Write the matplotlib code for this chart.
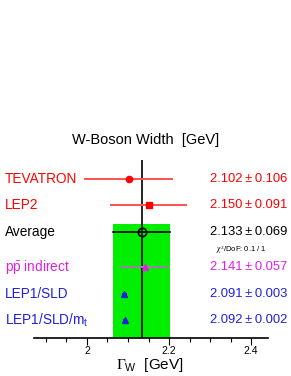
import matplotlib
matplotlib.use('Agg')
import matplotlib.pyplot as plt
from matplotlib.ticker import MultipleLocator

plt.rcParams['font.family'] = ['Liberation Sans', 'DejaVu Sans']
plt.rcParams['mathtext.fontset'] = 'custom'
plt.rcParams['mathtext.rm'] = 'Liberation Serif'
plt.rcParams['mathtext.it'] = 'Liberation Serif:italic'
plt.rcParams['mathtext.sf'] = 'Liberation Sans'

# measurements
labels = ['TEVATRON', 'LEP2', 'Average', r'p$\bar{\mathsf{p}}$ indirect',
          'LEP1/SLD', r'LEP1/SLD/m$_{\mathsf{t}}$']
values = [2.102, 2.150, 2.133, 2.141, 2.091, 2.092]
errors = [0.106, 0.091, 0.069, 0.057, 0.003, 0.002]
chi2_text = r'$\chi^2$/DoF: 0.1 / 1'

avg = values[2]
avg_err = errors[2]

# layout (row heights in axis units)
rows = [159, 133, 106, 71, 44, 18]
markers = ['o', 's', 'o', '^', '^', '^']
txt_colors = ['#ff0000', '#ff0000', 'black', '#e020e0', '#2020dd', '#2020dd']
bar_colors = ['#ff5050', '#ff5050', 'black', '#a878a8', '#2020dd', '#2020dd']

fig = plt.figure(figsize=(2.91, 3.76), dpi=100)
ax = fig.add_axes([34/291, 1-338/376, 234/291, 178/376])
ax.set_xlim(1.871, 2.441)
ax.set_ylim(0, 178)

ax.fill_betweenx([0, 114], avg-avg_err, avg+avg_err, color='#00ee00', lw=0, zorder=1)
ax.plot([avg, avg], [0, 178], color='black', lw=1.2, zorder=2)

for i in range(len(values)):
    y = rows[i]
    if i == 2:
        ax.plot([avg-avg_err, avg+avg_err], [y, y], color='black', lw=1.2, zorder=3)
        ax.plot(values[i], y, marker='o', ms=6, mfc='none', mec='black', mew=1.2, zorder=4)
    else:
        ax.plot([values[i]-errors[i], values[i]+errors[i]], [y, y],
                color=bar_colors[i], lw=1.4, zorder=3)
        ax.plot(values[i], y, marker=markers[i], ms=5 if markers[i] != 'o' else 4.5,
                color=txt_colors[i], lw=0, zorder=4)
    ax.text(-29/234, y, labels[i], color=txt_colors[i], fontsize=9.8,
            ha='left', va='center', transform=ax.get_yaxis_transform())
    ax.text(253/234, y, '%.3f\u2009±\u2009%.3f' % (values[i], errors[i]),
            color=txt_colors[i], fontsize=9.4, ha='right', va='center',
            transform=ax.get_yaxis_transform())

ax.text(216/291, 1-250/376, chi2_text, fontsize=5.5, ha='left', va='center',
        transform=fig.transFigure)

for s in ['top', 'left', 'right']:
    ax.spines[s].set_visible(False)
ax.spines['bottom'].set_linewidth(1.2)
ax.set_yticks([])
ax.xaxis.set_minor_locator(MultipleLocator(0.05))
ax.set_xticks([2.0, 2.2, 2.4])
ax.set_xticklabels(['2', '2.2', '2.4'])
ax.tick_params(axis='x', which='major', length=5, width=0.8, labelsize=7.5, pad=0.8)
ax.tick_params(axis='x', which='minor', length=3, width=0.8)

fig.text(146/291, 1-140/376, 'W-Boson Width  [GeV]', fontsize=10.5, ha='center', va='center')
fig.text(150/291, 1-365/376, r'$\Gamma_{\mathsf{W}}$  [GeV]', fontsize=11,
         ha='center', va='center')

fig.savefig('out.png', dpi=100)
